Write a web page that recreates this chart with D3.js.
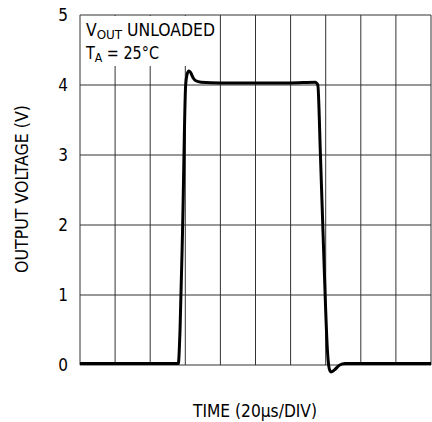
<!DOCTYPE html>
<html>
<head>
<meta charset="utf-8">
<script src="https://cdn.jsdelivr.net/npm/d3@7"></script>
<style>
  body { margin: 0; background: #fff; }
  text { font-family: "DejaVu Sans Condensed", "Liberation Sans", Arial, sans-serif; fill: #000; }
</style>
</head>
<body>
<svg width="432" height="422"></svg>
<script>
(function () {
  'use strict';

  // time in microseconds, output in volts
  var timeUs = [0, 56, 57, 58.5, 60.2, 61, 62, 63, 64.5, 66, 69, 80, 120, 134, 135.5, 137, 139, 141, 142, 143, 145, 148, 151, 200];
  var volts  = [0.02, 0.02, 0.5, 2, 4.0, 4.15, 4.2, 4.18, 4.1, 4.06, 4.04, 4.03, 4.03, 4.04, 4.0, 3.0, 1.5, 0.2, -0.05, -0.1, -0.07, 0.0, 0.02, 0.02];
  var xTicks = [0, 20, 40, 60, 80, 100, 120, 140, 160, 180, 200];
  var yTicks = [0, 1, 2, 3, 4, 5];

  var left = 80, right = 431, top = 15, bottom = 365;
  var svg = d3.select('svg');

  var x = d3.scaleLinear().domain([0, 200]).range([left, right]);
  var y = d3.scaleLinear().domain([0, 5]).range([bottom, top]);

  // grid
  svg.append('g').selectAll('line').data(xTicks).enter().append('line')
    .attr('x1', function (d) { return x(d); })
    .attr('x2', function (d) { return x(d); })
    .attr('y1', top).attr('y2', bottom)
    .attr('stroke', '#333').attr('stroke-width', 1);
  svg.append('g').selectAll('line').data(yTicks).enter().append('line')
    .attr('x1', left).attr('x2', right)
    .attr('y1', function (d) { return y(d); })
    .attr('y2', function (d) { return y(d); })
    .attr('stroke', '#333').attr('stroke-width', 1);

  // label box covers grid
  svg.append('rect')
    .attr('x', left + 1).attr('y', top + 1)
    .attr('width', 137).attr('height', 50)
    .attr('fill', '#fff');

  var t1 = svg.append('text').attr('x', 86).attr('y', 36).attr('font-size', 17)
    .attr('textLength', 129).attr('lengthAdjust', 'spacingAndGlyphs');
  t1.append('tspan').text('V');
  t1.append('tspan').attr('dy', 3).attr('font-size', 13).text('OUT');
  t1.append('tspan').attr('dy', -3).text(' UNLOADED');
  var t2 = svg.append('text').attr('x', 86).attr('y', 59).attr('font-size', 17)
    .attr('textLength', 73).attr('lengthAdjust', 'spacingAndGlyphs');
  t2.append('tspan').text('T');
  t2.append('tspan').attr('dy', 3).attr('font-size', 13).text('A');
  t2.append('tspan').attr('dy', -3).text(' = 25\u00B0C');

  // waveform
  var pts = timeUs.map(function (t, i) { return [t, volts[i]]; });
  var line = d3.line()
    .x(function (d) { return x(d[0]); })
    .y(function (d) { return y(d[1]); })
    .curve(d3.curveMonotoneX);
  svg.append('path').datum(pts)
    .attr('d', line)
    .attr('fill', 'none')
    .attr('stroke', '#000')
    .attr('stroke-width', 3)
    .attr('stroke-linejoin', 'round');

  // y tick labels
  svg.append('g').selectAll('text').data(yTicks).enter().append('text')
    .attr('x', 68)
    .attr('y', function (d) { return y(d) + 6; })
    .attr('text-anchor', 'end')
    .attr('font-size', 17)
    .text(function (d) { return d; });

  svg.append('text')
    .attr('transform', 'translate(28,189) rotate(-90)')
    .attr('text-anchor', 'middle')
    .attr('font-size', 17)
    .attr('textLength', 168).attr('lengthAdjust', 'spacingAndGlyphs')
    .text('OUTPUT VOLTAGE (V)');

  svg.append('text')
    .attr('x', 255)
    .attr('y', 417)
    .attr('text-anchor', 'middle')
    .attr('font-size', 17)
    .attr('textLength', 124).attr('lengthAdjust', 'spacingAndGlyphs')
    .text('TIME (20\u00B5s/DIV)');
})();
</script>
</body>
</html>
